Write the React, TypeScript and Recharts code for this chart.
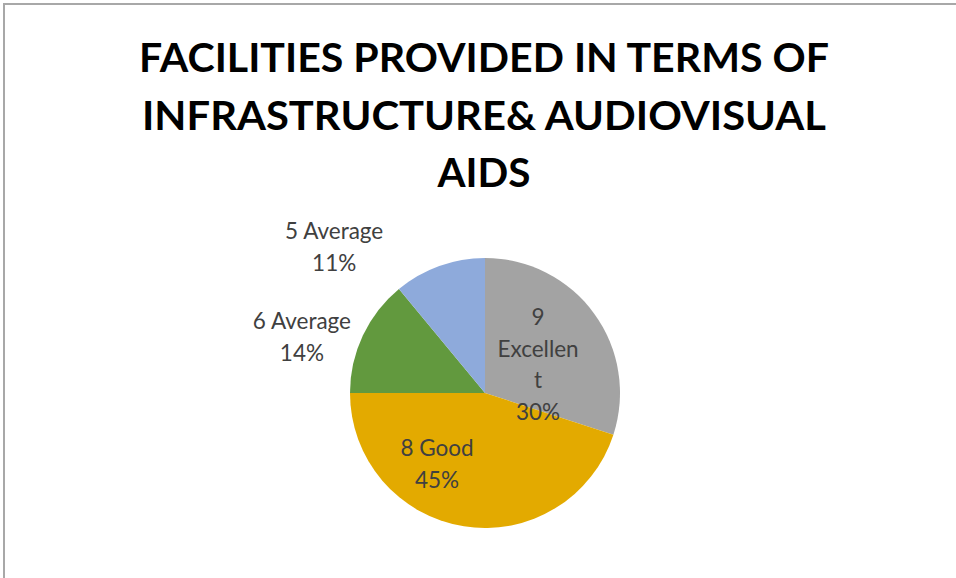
// Pie chart: facilities provided in terms of infrastructure & audiovisual aids
// Excel-like look: bold condensed title, data labels with category + percent

import React from "react"
import { Cell, Pie, PieChart } from "recharts"

const categories = ["9 Excellent", "8 Good", "6 Average", "5 Average"]
const shares = [30, 45, 14, 11]

const titleLines = [
  "FACILITIES PROVIDED IN TERMS OF",
  "INFRASTRUCTURE& AUDIOVISUAL",
  "AIDS",
]

const sliceColors = ["#a3a3a3", "#e3aa00", "#62993e", "#8eaadb"]

// label placement relative to the pie: distance in outer radii, angle in degrees
const labelLayout = [
  { dist: 0.445, angle: 28, wrap: 8 },
  { dist: 0.635, angle: -124, wrap: 0 },
  { dist: 1.418, angle: 163, wrap: 0 },
  { dist: 1.553, angle: 136, wrap: 0 },
]

const data = categories.map((name, i) => ({ name, value: shares[i] }))

const FONT = "Lato, 'Open Sans', sans-serif"
const LABEL_SIZE = 22.5
const LINE_H = 31.5

// break the name into lines no longer than `wrap` characters (Excel-style)
function wrapName(name: string, wrap: number): string[] {
  if (!wrap) return [name]
  const out: string[] = []
  let cur = ""
  for (const word of name.split(" ")) {
    const next = cur ? cur + " " + word : word
    if (next.length <= wrap) {
      cur = next
      continue
    }
    if (cur) out.push(cur)
    let w = word
    while (w.length > wrap) {
      out.push(w.slice(0, wrap))
      w = w.slice(wrap)
    }
    cur = w
  }
  if (cur) out.push(cur)
  return out
}

const renderLabel = (props: any) => {
  const { cx, cy, outerRadius, index, name, value } = props
  const lay = labelLayout[index]
  const rad = (lay.angle * Math.PI) / 180
  const x = cx + outerRadius * lay.dist * Math.cos(rad)
  const y = cy - outerRadius * lay.dist * Math.sin(rad)
  const lines = [...wrapName(name, lay.wrap), `${value}%`]
  const top = y - ((lines.length - 1) * LINE_H) / 2
  return (
    <text
      key={`lbl-${index}`}
      x={x}
      y={top}
      textAnchor="middle"
      fontFamily={FONT}
      fontSize={LABEL_SIZE}
      fill="#404040"
    >
      {lines.map((line, i) => (
        <tspan key={i} x={x} y={top + i * LINE_H + LABEL_SIZE * 0.35}>
          {line}
        </tspan>
      ))}
    </text>
  )
}

const titleWidths = [690, 684, 93]

export default function App() {
  return (
    <div
      style={{
        position: "absolute",
        left: 0,
        top: 0,
        width: 956,
        height: 578,
        background: "#fff",
        overflow: "hidden",
      }}
    >
      <div
        style={{
          position: "absolute",
          left: 3,
          top: 3,
          width: 960,
          height: 580,
          borderTop: "2px solid #a8a8a8",
          borderLeft: "2px solid #a8a8a8",
        }}
      />
      <svg
        width={956}
        height={200}
        style={{ position: "absolute", left: 0, top: 0 }}
      >
        {titleLines.map((line, i) => (
          <text
            key={line}
            x={484}
            y={72 + i * 57.5}
            textAnchor="middle"
            fontFamily={FONT}
            fontWeight={700}
            fontSize={41}
            fill="#000"
            textLength={titleWidths[i]}
            lengthAdjust="spacingAndGlyphs"
          >
            {line}
          </text>
        ))}
      </svg>
      <div style={{ position: "absolute", left: 0, top: 0 }}>
        <PieChart
          width={956}
          height={578}
          margin={{ top: 0, right: 0, bottom: 0, left: 0 }}
        >
          <Pie
            data={data}
            dataKey="value"
            nameKey="name"
            cx={485}
            cy={393}
            outerRadius={135}
            startAngle={90}
            endAngle={-270}
            stroke="none"
            labelLine={false}
            label={renderLabel}
            isAnimationActive={false}
          >
            {data.map((d, i) => (
              <Cell key={d.name} fill={sliceColors[i]} />
            ))}
          </Pie>
        </PieChart>
      </div>
    </div>
  )
}
